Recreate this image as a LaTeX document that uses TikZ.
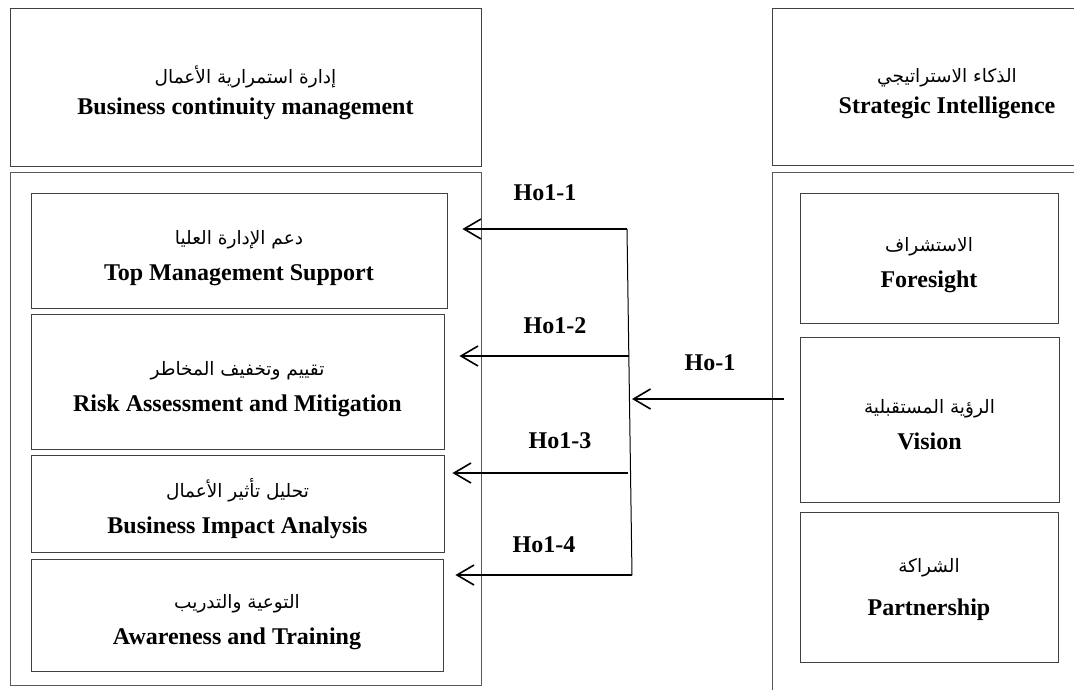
\documentclass[tikz,border=0pt]{standalone}
\usepackage{fontspec}
\setmainfont{Liberation Serif}
\newfontfamily\arabicfont[Script=Arabic]{DejaVu Sans}
\TeXXeTstate=1
\usetikzlibrary{arrows.meta,calc}
% #1 = top strut height, #2 = extra gap between lines
\newcommand\bilg[4]{\begin{tabular}{@{}c@{}}\rule{0pt}{#1}{\arabicfont\mdseries\fontsize{18.5}{34}\selectfont #3}\\[#2]#4\end{tabular}}
\newcommand\bil[2]{\bilg{34pt}{2pt}{#1}{#2}}
\tikzset{
  box/.style={draw=black!75, line width=0.9pt, inner sep=0pt,
    font=\fontsize{24}{34}\selectfont\bfseries},
  frame/.style={draw=black!65, line width=0.9pt, inner sep=0pt},
  arr/.style={line width=2.2pt, -{Straight Barb[length=17pt,width=20pt,line width=1.6pt]}},
  vline/.style={line width=1pt},
  hlab/.style={font=\fontsize{24}{26}\selectfont\bfseries, inner sep=1pt}
}
\begin{document}
\begin{tikzpicture}[x=1pt,y=-1pt]
\fill[white] (0,0) rectangle (1074,689);
\path[use as bounding box] (0,0) rectangle (1074,689);
\clip (0,0) rectangle (1074,689);
% left side
\node[box, minimum width=471pt, minimum height=158pt] (bcm) at (245.5,87) {\bilg{34pt}{-3pt}{\beginR إدارة استمرارية الأعمال\endR}{Business continuity management}};
\node[frame, minimum width=471pt, minimum height=513pt] (lc) at (245.5,428.5) {};
\node[box, minimum width=416pt, minimum height=115pt] (tms) at (239,250.5) {\bil{\beginR دعم الإدارة العليا\endR}{Top Management Support}};
\node[box, minimum width=413pt, minimum height=135pt] (ram) at (237.5,381.5) {\bil{\beginR تقييم وتخفيف المخاطر\endR}{Risk Assessment and Mitigation}};
\node[box, minimum width=413pt, minimum height=97pt] (bia) at (237.5,503.5) {\bil{\beginR تحليل تأثير الأعمال\endR}{Business Impact Analysis}};
\node[box, minimum width=412pt, minimum height=112pt] (at) at (237,615) {\bil{\beginR التوعية والتدريب\endR}{Awareness and Training}};
% right side
\node[box, minimum width=350pt, minimum height=157pt] (si) at (947,86.5) {\bilg{34pt}{-3pt}{\beginR الذكاء الاستراتيجي\endR}{Strategic Intelligence}};
\node[frame, minimum width=350pt, minimum height=530pt] (rc) at (947,437) {};
\node[box, minimum width=258pt, minimum height=130pt] (fs) at (929,258) {\bil{\beginR الاستشراف\endR}{Foresight}};
\node[box, minimum width=259pt, minimum height=165pt] (vi) at (929.5,419.5) {\bil{\beginR الرؤية المستقبلية\endR}{Vision}};
\node[box, minimum width=258pt, minimum height=150pt] (pa) at (929,587) {\bilg{24pt}{9.5pt}{\beginR الشراكة\endR}{Partnership}};
% connectors
\coordinate (j1) at (627,229);
\coordinate (j2) at (629,356);
\coordinate (j3) at (628,473);
\coordinate (j4) at (632,575);
\coordinate (jh) at (632,399);
\coordinate (hs) at (784,399);
\draw[vline] (j1) -- (j4);
\draw[arr, shorten >=15pt] (j1) -- (j1 -| tms.east);
\draw[arr, shorten >=15pt] (j2) -- (j2 -| ram.east);
\draw[arr, shorten >=8pt] (j3) -- (j3 -| bia.east);
\draw[arr, shorten >=12pt] (j4) -- (j4 -| at.east);
\draw[arr] (hs) -- (jh);
% labels
\node[hlab] (l1) at (545,193) {Ho1-1};
\node[hlab] (l2) at (555,326) {Ho1-2};
\node[hlab] (l3) at (560,441) {Ho1-3};
\node[hlab] (l4) at (544,545) {Ho1-4};
\node[hlab] (l0) at (710,363) {Ho-1};
\end{tikzpicture}
\end{document}
